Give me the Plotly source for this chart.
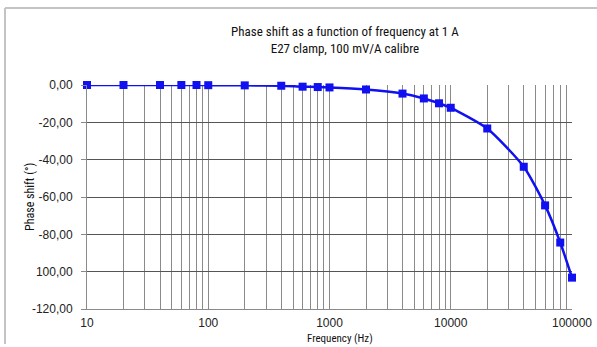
import plotly.graph_objects as go

freq_hz = [10, 20, 40, 60, 80, 100, 200, 400, 600, 800, 1000, 2000, 4000, 6000,
           8000, 10000, 20000, 40000, 60000, 80000, 100000]
phase_deg = [0.0, 0.0, 0.0, 0.0, 0.0, -0.1, -0.2, -0.4, -0.9, -1.1, -1.3, -2.4, -4.6,
             -7.2, -9.8, -12.2, -23.3, -43.8, -64.5, -84.4, -103.2]

y_tick_vals = [0, -20, -40, -60, -80, -100, -120]
y_tick_text = ["0,00", "-20,00", "-40,00", "-60,00", "-80,00", "100,00", "-120,00"]
x_major = [10, 100, 1000, 10000, 100000]
x_grid = [m * d for d in [10, 100, 1000, 10000] for m in range(1, 10)] + [100000]
x_text = [str(v) if v in x_major else "" for v in x_grid]

title_lines = ["Phase shift as a function of frequency at 1 A", "E27 clamp, 100 mV/A calibre"]
x_title = "Frequency (Hz)"
y_title = "Phase shift (°)"

W, H = 597, 347
L, R, T, B = 87, 25, 85, 38

narrow = "Liberation Sans Narrow, Roboto Condensed, Arial Narrow, Roboto, sans-serif"
tickfont = dict(family="Liberation Sans, Arial, sans-serif", size=12, color="#222222")

fig = go.Figure()
fig.add_trace(go.Scatter(
    x=freq_hz, y=phase_deg, mode="lines+markers",
    line=dict(color="#1010f0", width=2.5, shape="spline", smoothing=0.6),
    marker=dict(symbol="square", size=8, color="#1010f0"),
    cliponaxis=False, showlegend=False, hoverinfo="skip",
))

fig.update_layout(
    width=W, height=H,
    margin=dict(l=L, r=R, t=T, b=B, autoexpand=False),
    paper_bgcolor="white", plot_bgcolor="white",
    xaxis=dict(type="log", range=[1, 5], tickmode="array", tickvals=x_grid, ticktext=x_text,
               showgrid=True, gridcolor="#8a8a8a", gridwidth=1, zeroline=False,
               showline=True, linecolor="#8a8a8a", ticks="", tickfont=tickfont, automargin=False,
               ticklabelstandoff=3),
    yaxis=dict(range=[-120, 0], tickmode="array", tickvals=y_tick_vals, ticktext=y_tick_text,
               showgrid=True, gridcolor="#555555", gridwidth=1, zeroline=False,
               showline=True, linecolor="#8a8a8a", ticks="outside", ticklen=5, tickcolor="#8a8a8a",
               tickfont=tickfont, automargin=False, ticklabelstandoff=6),
)

pw, ph = W - L - R, H - T - B
def px_x(x):
    return (x - L) / pw
def px_y(y):
    return 1 - (y - T) / ph

# chart frame (top and left edges)
fig.add_shape(type="line", xref="paper", yref="paper",
              x0=px_x(5), x1=px_x(W), y0=px_y(8), y1=px_y(8),
              line=dict(color="#c4c4c4", width=2))
fig.add_shape(type="line", xref="paper", yref="paper",
              x0=px_x(5), x1=px_x(5), y0=px_y(8), y1=px_y(344),
              line=dict(color="#c4c4c4", width=2))

fig.add_annotation(text=title_lines[0] + "<br>" + title_lines[1], xref="paper", yref="paper",
                   x=px_x(345), y=px_y(40), xanchor="center", yanchor="middle", showarrow=False,
                   font=dict(family=narrow, size=13, color="#111111"))
fig.add_annotation(text=x_title, xref="paper", yref="paper",
                   x=px_x(340), y=px_y(338), xanchor="center", yanchor="middle", showarrow=False,
                   font=dict(family=narrow, size=11, color="#111111"))
fig.add_annotation(text=y_title, xref="paper", yref="paper", textangle=-90,
                   x=px_x(30), y=px_y(197), xanchor="center", yanchor="middle", showarrow=False,
                   font=dict(family=narrow, size=12, color="#111111"))

fig.write_html("out.html", config={"displayModeBar": False},
               post_script="document.body.style.margin='0';document.body.style.overflow='hidden';")
